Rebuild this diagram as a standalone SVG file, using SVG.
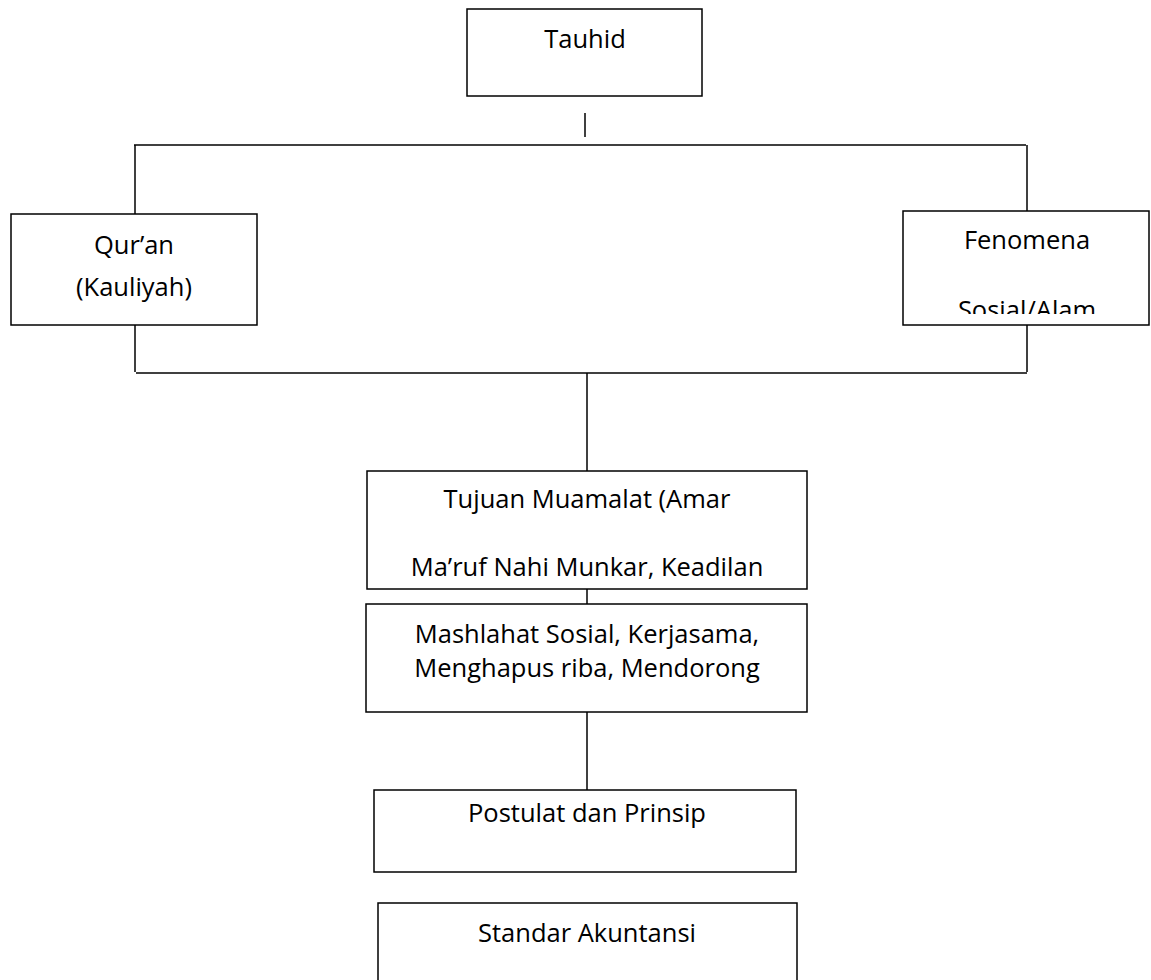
<svg xmlns="http://www.w3.org/2000/svg" width="1151" height="980" viewBox="0 0 1151 980">
<style>
.box{fill:#fff;stroke:#000;stroke-width:1.5}
.ln{stroke:#000;stroke-width:1.5;fill:none}
text{font-family:"Open Sans","Liberation Sans",sans-serif;font-size:25.5px;fill:#000;text-anchor:middle}
</style>
<defs>
<clipPath id="clipFen"><rect x="903" y="211" width="246" height="103"/></clipPath>
</defs>
<rect width="1151" height="980" fill="#fff"/>
<g id="connectors">
<line class="ln" x1="585" y1="113" x2="585" y2="137"/>
<line class="ln" x1="134" y1="145" x2="1026" y2="145"/>
<line class="ln" x1="135" y1="145" x2="135" y2="214"/>
<line class="ln" x1="1027" y1="145" x2="1027" y2="211"/>
<line class="ln" x1="135" y1="325" x2="135" y2="372"/>
<line class="ln" x1="1027" y1="325" x2="1027" y2="372"/>
<line class="ln" x1="136" y1="373" x2="1027" y2="373"/>
<line class="ln" x1="587" y1="373" x2="587" y2="471"/>
<line class="ln" x1="587" y1="589" x2="587" y2="604"/>
<line class="ln" x1="587" y1="712" x2="587" y2="790"/>
</g>
<g id="tauhid">
<rect class="box" x="467" y="9" width="235" height="87"/>
<text x="585" y="48">Tauhid</text>
</g>
<g id="quran">
<rect class="box" x="11" y="214" width="246" height="111"/>
<text x="134" y="254">Qur’an</text>
<text x="134" y="296">(Kauliyah)</text>
</g>
<g id="fenomena">
<rect class="box" x="903" y="211" width="246" height="114"/>
<text x="1027" y="249">Fenomena</text>
<text x="1027" y="319" clip-path="url(#clipFen)">Sosial/Alam</text>
</g>
<g id="tujuan">
<rect class="box" x="367" y="471" width="440" height="118"/>
<text x="587" y="508">Tujuan Muamalat (Amar</text>
<text x="587" y="576">Ma’ruf Nahi Munkar, Keadilan</text>
</g>
<g id="mashlahat">
<rect class="box" x="366" y="604" width="441" height="108"/>
<text x="587" y="643">Mashlahat Sosial, Kerjasama,</text>
<text x="587" y="677">Menghapus riba, Mendorong</text>
</g>
<g id="postulat">
<rect class="box" x="374" y="790" width="422" height="82"/>
<text x="587" y="822">Postulat dan Prinsip</text>
</g>
<g id="standar">
<rect class="box" x="378" y="903" width="419" height="90"/>
<text x="587" y="942">Standar Akuntansi</text>
</g>
</svg>
